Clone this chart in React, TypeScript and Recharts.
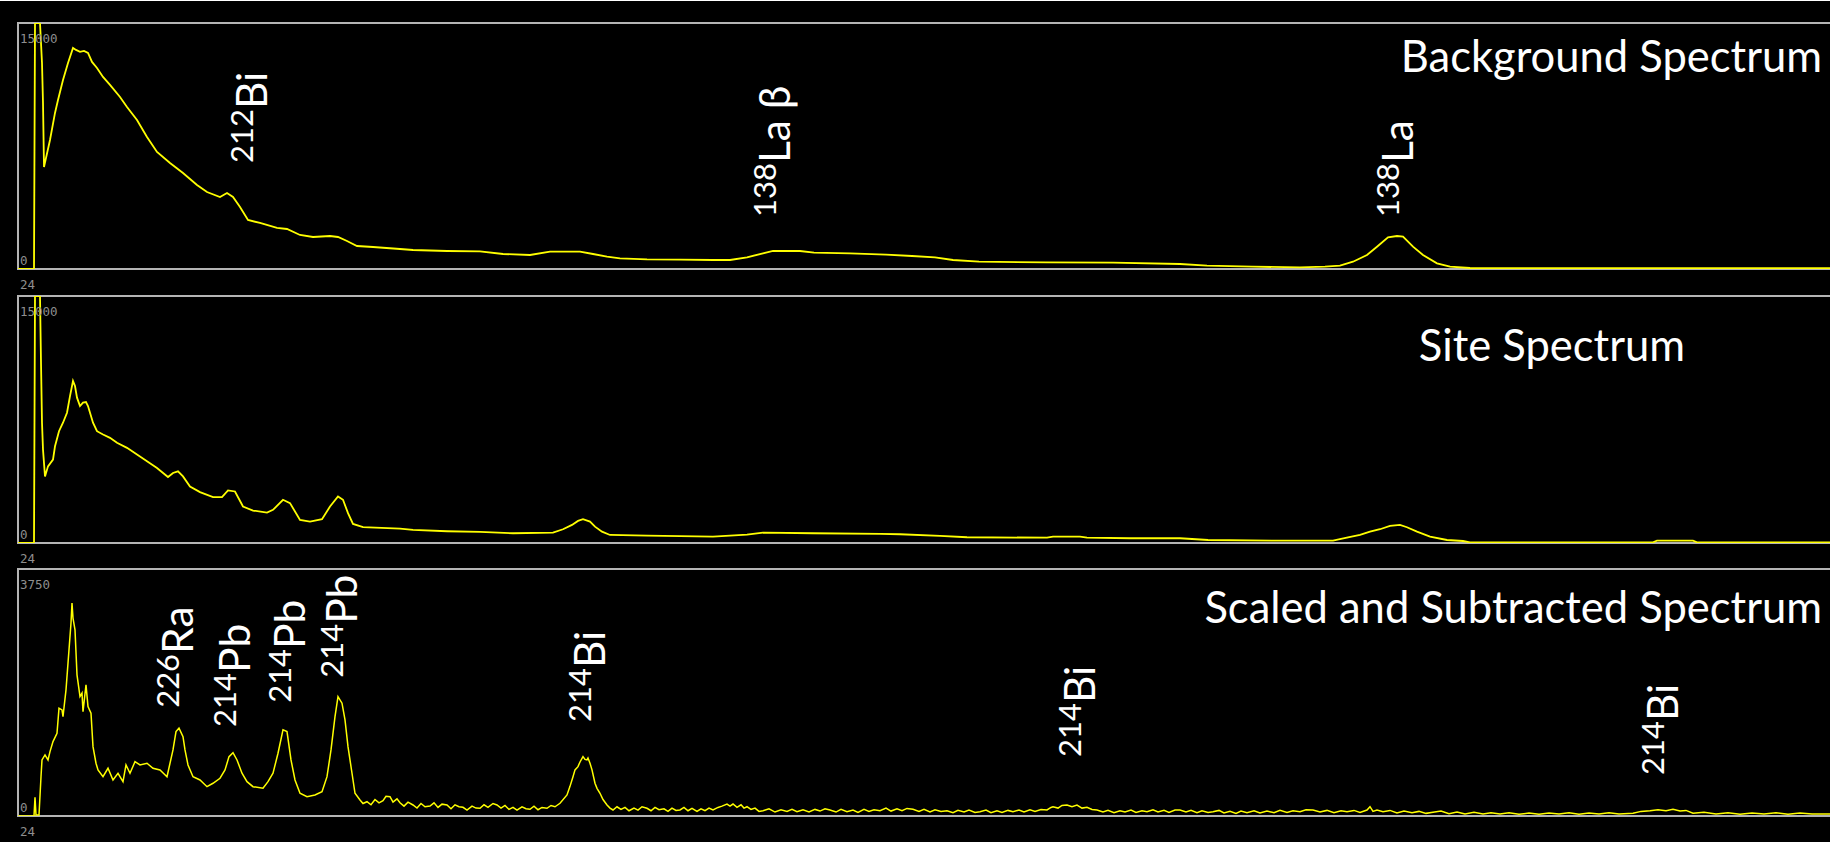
import React from 'react';
import { LineChart, Line, XAxis, YAxis, ReferenceArea, ReferenceDot } from 'recharts';

// ---------- data (channel, counts) ----------
const channelDomain: [number, number] = [24, 1846];
const xTickLabels = [24];
const countMaxima = [15000, 15000, 3750];
const panelTitles = ['Background Spectrum', 'Site Spectrum', 'Scaled and Subtracted Spectrum'];

const backgroundSpectrum: [number, number][] = [
  [24, 0], [40, 0], [41, 15000], [46, 15000], [48, 12566], [49, 10126], [50, 6222], [56, 7869], [61, 9516],
  [64, 10309], [69, 11529], [74, 12566], [79, 13481], [82, 13360], [86, 13237], [90, 13300], [94, 13176],
  [98, 12627], [103, 12261], [109, 11712], [116, 11224], [126, 10492], [133, 9882], [143, 9089], [153, 8052],
  [163, 7137], [176, 6466], [189, 5856], [203, 5124], [213, 4697], [226, 4392], [233, 4636], [239, 4392],
  [246, 3782], [254, 2989], [266, 2806], [283, 2501], [293, 2440], [306, 2074], [319, 1952], [336, 2013],
  [344, 1952], [353, 1708], [363, 1403], [379, 1342], [406, 1220], [419, 1159], [453, 1098], [486, 1080],
  [509, 915], [536, 854], [556, 1055], [586, 1055], [599, 915], [613, 750], [626, 653], [653, 592], [686, 567],
  [719, 549], [736, 549], [753, 714], [769, 958], [779, 1098], [806, 1098], [820, 994], [856, 958], [892, 872],
  [918, 793], [941, 714], [959, 549], [985, 445], [1052, 409], [1119, 384], [1186, 305], [1213, 201],
  [1258, 140], [1306, 100], [1331, 140], [1346, 201], [1359, 445], [1373, 854], [1383, 1360], [1394, 1934],
  [1403, 2013], [1409, 1970], [1419, 1360], [1429, 854], [1443, 348], [1456, 140], [1476, 61], [1846, 50],
];

const siteSpectrum: [number, number][] = [
  [24, 0], [40, 0], [41, 15000], [46, 15000], [47, 10962], [48, 7302], [49, 5673], [51, 4044], [54, 4654],
  [59, 5063], [61, 5874], [65, 6789], [69, 7302], [73, 7912], [76, 8924], [79, 9839], [81, 9534], [83, 8827],
  [86, 8314], [89, 8522], [92, 8558], [94, 8314], [99, 7302], [103, 6789], [109, 6588], [116, 6387],
  [123, 6082], [133, 5777], [143, 5368], [153, 4959], [163, 4557], [174, 4008], [179, 4252], [184, 4349],
  [189, 4044], [196, 3434], [206, 3093], [219, 2788], [228, 2788], [234, 3190], [241, 3129], [249, 2214],
  [259, 1970], [273, 1848], [279, 2013], [289, 2623], [296, 2422], [306, 1403], [316, 1299], [328, 1446],
  [336, 2214], [344, 2824], [349, 2623], [354, 1812], [359, 1159], [369, 958], [406, 872], [419, 793],
  [453, 714], [486, 671], [519, 592], [559, 628], [569, 836], [578, 1098], [584, 1342], [589, 1446],
  [596, 1299], [601, 994], [608, 689], [616, 488], [653, 445], [719, 384], [753, 506], [769, 628], [819, 592],
  [886, 549], [906, 531], [946, 427], [973, 348], [1053, 323], [1059, 384], [1086, 384], [1093, 323],
  [1136, 287], [1186, 287], [1214, 183], [1286, 140], [1339, 140], [1354, 348], [1366, 488], [1376, 689],
  [1386, 836], [1396, 1037], [1406, 1098], [1413, 958], [1423, 689], [1436, 384], [1453, 183], [1469, 122],
  [1476, 43], [1659, 43], [1663, 140], [1699, 140], [1703, 43], [1846, 43],
];

const subtractedSpectrum: [number, number][] = [
  [24, 0], [40, 0], [41, 284], [42, 15], [45, 15], [47, 597], [48, 851], [51, 927], [54, 851], [56, 977],
  [59, 1129], [63, 1257], [65, 1637], [68, 1611], [69, 1509], [72, 1915], [74, 2321], [77, 2929], [78, 3233],
  [79, 3005], [81, 2827], [83, 2143], [86, 1813], [88, 1865], [89, 1585], [92, 1991], [94, 1661], [97, 1561],
  [99, 1053], [102, 801], [104, 699], [109, 597], [114, 725], [119, 547], [124, 649], [129, 521], [132, 775],
  [136, 649], [141, 825], [146, 775], [153, 801], [159, 725], [166, 699], [173, 597], [176, 801], [179, 1003],
  [182, 1281], [185, 1333], [189, 1205], [191, 1003], [194, 775], [199, 597], [206, 547], [213, 445],
  [219, 497], [226, 573], [231, 699], [235, 901], [239, 962], [243, 851], [248, 649], [253, 521], [259, 445],
  [269, 421], [274, 521], [279, 649], [284, 953], [289, 1307], [293, 1281], [297, 851], [301, 547], [306, 345],
  [313, 293], [321, 319], [328, 369], [333, 597], [337, 1003], [341, 1509], [344, 1813], [348, 1713],
  [351, 1459], [354, 1053], [358, 649], [361, 345], [366, 243], [369, 190], [373, 217], [377, 170], [381, 250],
  [385, 200], [389, 233], [392, 300], [396, 293], [399, 210], [403, 260], [406, 202], [410, 150], [414, 210],
  [419, 167], [423, 120], [427, 190], [431, 140], [436, 152], [440, 200], [444, 130], [448, 180], [453, 167],
  [457, 110], [461, 170], [465, 140], [469, 132], [473, 90], [478, 150], [482, 120], [486, 117], [490, 170],
  [494, 130], [499, 190], [503, 167], [507, 120], [511, 160], [515, 100], [519, 132], [523, 90], [528, 140],
  [532, 110], [536, 102], [540, 150], [544, 95], [548, 130], [553, 117], [557, 160], [561, 140], [566, 193],
  [573, 319], [576, 450], [579, 597], [581, 700], [584, 749], [586, 820], [589, 901], [591, 860], [593, 851],
  [594, 880], [596, 801], [598, 700], [601, 497], [603, 420], [606, 345], [609, 250], [613, 167], [616, 120],
  [619, 91], [623, 140], [627, 100], [631, 130], [635, 80], [640, 120], [644, 90], [648, 140], [653, 117],
  [657, 80], [661, 130], [665, 95], [670, 110], [674, 70], [678, 120], [682, 85], [686, 91], [690, 130],
  [694, 80], [698, 115], [703, 70], [707, 110], [711, 80], [715, 120], [719, 91], [724, 130], [728, 150],
  [733, 180], [736, 150], [739, 182], [743, 130], [747, 170], [750, 120], [753, 141], [757, 100], [761, 120],
  [765, 70], [769, 81], [775, 110], [781, 60], [787, 95], [793, 70], [798, 100], [803, 65], [809, 95],
  [815, 60], [821, 100], [826, 75], [831, 110], [836, 91], [842, 60], [847, 100], [853, 65], [859, 90],
  [864, 55], [870, 100], [875, 70], [880, 95], [886, 81], [892, 120], [897, 75], [903, 110], [908, 80],
  [913, 115], [919, 102], [925, 70], [930, 100], [936, 60], [941, 95], [947, 70], [953, 81], [959, 50],
  [964, 85], [970, 60], [975, 90], [981, 55], [986, 65], [992, 90], [997, 50], [1003, 80], [1008, 55],
  [1014, 85], [1019, 65], [1025, 90], [1030, 60], [1036, 95], [1041, 70], [1047, 100], [1053, 91], [1057, 130],
  [1059, 141], [1064, 120], [1068, 160], [1073, 167], [1078, 140], [1083, 165], [1088, 120], [1093, 132],
  [1098, 100], [1103, 91], [1109, 60], [1114, 85], [1120, 50], [1126, 80], [1131, 60], [1137, 90], [1142, 55],
  [1148, 80], [1153, 65], [1159, 95], [1164, 60], [1170, 85], [1175, 55], [1181, 90], [1186, 91], [1192, 60],
  [1197, 85], [1203, 50], [1208, 80], [1214, 55], [1219, 65], [1225, 85], [1230, 45], [1236, 70], [1242, 40],
  [1247, 75], [1253, 50], [1260, 80], [1266, 45], [1273, 75], [1280, 50], [1286, 85], [1293, 55], [1299, 80],
  [1306, 65], [1312, 95], [1319, 91], [1326, 60], [1333, 85], [1340, 50], [1347, 80], [1353, 65], [1360, 85],
  [1366, 55], [1373, 91], [1376, 141], [1379, 70], [1383, 90], [1389, 65], [1396, 85], [1403, 45], [1410, 75],
  [1418, 50], [1425, 70], [1432, 40], [1439, 56], [1447, 75], [1455, 35], [1463, 60], [1471, 30], [1480, 55],
  [1489, 30], [1497, 50], [1506, 30], [1515, 50], [1525, 25], [1535, 45], [1545, 25], [1555, 45], [1565, 30],
  [1575, 50], [1585, 25], [1595, 45], [1605, 30], [1615, 50], [1625, 30], [1639, 41], [1647, 70], [1656, 81],
  [1664, 95], [1672, 80], [1679, 102], [1686, 75], [1692, 85], [1699, 41], [1710, 55], [1722, 30], [1734, 50],
  [1746, 25], [1758, 45], [1770, 30], [1782, 50], [1794, 25], [1806, 45], [1818, 30], [1829, 30], [1846, 30],
];

// peak annotations: where each rotated label starts (channel, counts)
const backgroundPeaks = [
  { mass: '212', element: 'Bi', ch: 273, n: 6466 },
  { mass: '138', element: 'La β', ch: 796, n: 3172 },
  { mass: '138', element: 'La', ch: 1419, n: 3172 },
];
const sitePeaks: { mass: string; element: string; ch: number; n: number }[] = [];
const subtractedPeaks = [
  { mass: '226', element: 'Ra', ch: 199, n: 1642 },
  { mass: '214', element: 'Pb', ch: 256, n: 1353 },
  { mass: '214', element: 'Pb', ch: 311, n: 1718 },
  { mass: '214', element: 'Pb', ch: 363, n: 2098 },
  { mass: '214', element: 'Bi', ch: 611, n: 1429 },
  { mass: '214', element: 'Bi', ch: 1101, n: 897 },
  { mass: '214', element: 'Bi', ch: 1684, n: 623 },
];
// title anchors (channel, counts) – right end of each panel title
const titleAnchors = [
  { ch: 1828, n: 12017, anchor: 'end' },
  { ch: 1691, n: 11041, anchor: 'end' },
  { ch: 1828, n: 2934, anchor: 'end' },
];

// ---------- styling ----------
const LABEL_FONT = "Lato, 'Open Sans', sans-serif";
const TICK_FONT = "'DejaVu Sans Mono', monospace";
const YELLOW = '#ffff00';
const FRAME = '#b4b4b4';
const TICK_COLOR = '#8e8e8e';

const toRows = (pts: [number, number][]) => pts.map(([ch, n]) => ({ ch, n }));

const PeakLabel = (props: any) => {
  const { cx, cy, mass, element } = props;
  if (cx == null || cy == null) return null;
  return (
    <text transform={`translate(${cx},${cy}) rotate(-90)`} fill="#ffffff" fontFamily={LABEL_FONT}>
      <tspan fontSize={31} dy={-14}>{mass}</tspan>
      <tspan fontSize={42.5} dy={14}>{element}</tspan>
    </text>
  );
};

const TitleLabel = (props: any) => {
  const { cx, cy, text, anchor } = props;
  if (cx == null || cy == null) return null;
  return (
    <text x={cx} y={cy} textAnchor={anchor} fill="#ffffff" fontFamily={LABEL_FONT} fontSize={43.5}>
      {text}
    </text>
  );
};

const makeYTick = (yMax: number) => (props: any) => {
  const { x, y, payload } = props;
  const isTop = payload.value === yMax;
  return (
    <text x={x} y={isTop ? y + 20 : y - 4.5} textAnchor="start" fill={TICK_COLOR} fontFamily={TICK_FONT} fontSize={12.5}>
      {payload.value}
    </text>
  );
};

const XTick = (props: any) => {
  const { x, y, payload } = props;
  return (
    <text x={x + 2} y={y + 20} textAnchor="start" fill={TICK_COLOR} fontFamily={TICK_FONT} fontSize={12.5}>
      {payload.value}
    </text>
  );
};

type PanelProps = {
  rows: { ch: number; n: number }[];
  yMax: number;
  title: string;
  titleAt: { ch: number; n: number; anchor: string };
  peaks: { mass: string; element: string; ch: number; n: number }[];
  plotTop: number;
  plotHeight: number;
  lineWidth: number;
};

const TOP_PAD = 10;
const AXIS_H = 24;

const Panel = ({ rows, yMax, title, titleAt, peaks, plotTop, plotHeight, lineWidth }: PanelProps) => (
  <div style={{ position: 'absolute', left: 0, top: plotTop - TOP_PAD }}>
    <LineChart
      width={1840}
      height={TOP_PAD + plotHeight + AXIS_H}
      data={rows}
      margin={{ top: TOP_PAD, right: 0, bottom: 0, left: 18 }}
    >
      <XAxis
        type="number"
        dataKey="ch"
        domain={channelDomain}
        ticks={xTickLabels}
        interval={0}
        allowDataOverflow
        axisLine={false}
        tickLine={false}
        tickSize={0}
        tickMargin={0}
        height={AXIS_H}
        tick={XTick}
      />
      <YAxis
        type="number"
        domain={[0, yMax]}
        ticks={[0, yMax]}
        interval={0}
        allowDataOverflow
        width={40}
        mirror
        axisLine={false}
        tickLine={false}
        tickSize={0}
        tickMargin={2}
        tick={makeYTick(yMax)}
      />
      <ReferenceArea
        x1={channelDomain[0]}
        x2={channelDomain[1]}
        y1={0}
        y2={yMax}
        fill="none"
        fillOpacity={0}
        stroke={FRAME}
        strokeWidth={2}
        ifOverflow="visible"
      />
      <Line
        type="linear"
        dataKey="n"
        stroke={YELLOW}
        strokeWidth={lineWidth}
        dot={false}
        activeDot={false}
        isAnimationActive={false}
      />
      <ReferenceDot
        x={titleAt.ch}
        y={titleAt.n}
        r={0}
        ifOverflow="visible"
        shape={(p: any) => <TitleLabel cx={p.cx} cy={p.cy} text={title} anchor={titleAt.anchor} />}
      />
      {peaks.map((pk, i) => (
        <ReferenceDot
          key={i}
          x={pk.ch}
          y={pk.n}
          r={0}
          ifOverflow="visible"
          shape={(p: any) => <PeakLabel cx={p.cx} cy={p.cy} mass={pk.mass} element={pk.element} />}
        />
      ))}
    </LineChart>
  </div>
);

export default function App() {
  return (
    <div style={{ position: 'absolute', left: 0, top: 0, width: 1830, height: 850, background: '#ffffff', overflow: 'hidden' }}>
      <div style={{ position: 'absolute', left: 0, top: 1, width: 1830, height: 841, background: '#000000' }} />
      <Panel rows={toRows(backgroundSpectrum)} yMax={countMaxima[0]} title={panelTitles[0]} titleAt={titleAnchors[0]} peaks={backgroundPeaks} plotTop={23} plotHeight={246} lineWidth={1.8} />
      <Panel rows={toRows(siteSpectrum)} yMax={countMaxima[1]} title={panelTitles[1]} titleAt={titleAnchors[1]} peaks={sitePeaks} plotTop={296} plotHeight={247} lineWidth={1.8} />
      <Panel rows={toRows(subtractedSpectrum)} yMax={countMaxima[2]} title={panelTitles[2]} titleAt={titleAnchors[2]} peaks={subtractedPeaks} plotTop={569} plotHeight={247} lineWidth={1.5} />
    </div>
  );
}
